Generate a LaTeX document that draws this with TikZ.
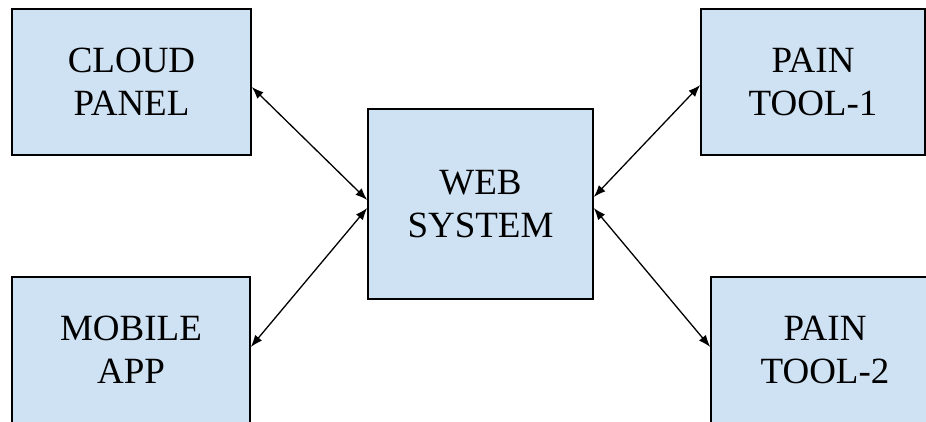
\documentclass[tikz,border=0pt]{standalone}
\usepackage{fontspec}
\setmainfont{Liberation Serif}
\usepackage{tikz}
\usetikzlibrary{arrows.meta}
\definecolor{boxblue}{HTML}{CFE2F3}
\tikzstyle{every node}=[thick]
\tikzstyle{block}=[draw=black, line width=1.6pt, fill=boxblue, align=center, inner sep=0pt,
  font=\fontsize{37}{43}\selectfont]
\tikzstyle{link}=[line width=1.3pt, {Latex[length=12pt,width=9pt]}-{Latex[length=12pt,width=9pt]}]

\begin{document}
\begin{tikzpicture}[x=1pt,y=-1pt]
 \useasboundingbox (0,0) rectangle (926,421);
 \clip (0,0) rectangle (926,421);
 \node[block, minimum width=239pt, minimum height=146pt] (cloud) at (131.5,82) {CLOUD\\PANEL};
 \node[block, minimum width=238pt, minimum height=146pt] (mobile) at (131,350) {MOBILE\\APP};
 \node[block, minimum width=225pt, minimum height=190pt] (web) at (480.5,204) {WEB\\SYSTEM};
 \node[block, minimum width=224pt, minimum height=146pt] (tool1) at (813,82) {PAIN\\TOOL-1};
 \node[block, minimum width=228pt, minimum height=146pt] (tool2) at (825,350) {PAIN\\TOOL-2};
 \draw[link] ([yshift=-5pt]cloud.east) -- ([yshift=4pt]web.west);
 \draw[link] ([yshift=3pt]mobile.east) -- ([yshift=-4pt]web.west);
 \draw[link] ([yshift=-3pt]tool1.west) -- ([yshift=7pt]web.east);
 \draw[link] ([yshift=3pt]tool2.west) -- ([yshift=-4pt]web.east);
\end{tikzpicture}
\end{document}
